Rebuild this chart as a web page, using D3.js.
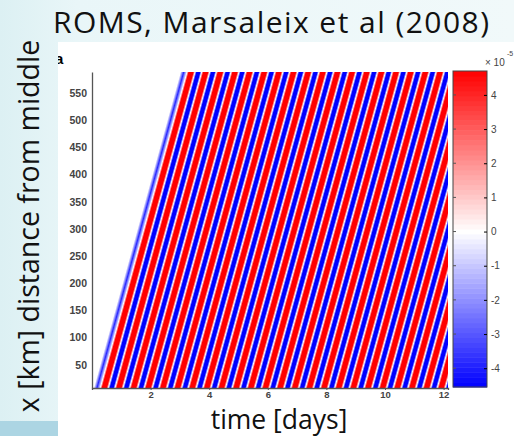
<!DOCTYPE html>
<meta charset="utf-8">
<style>
body { margin: 0; }
svg { display: block; }
.axis text { fill: #444; font-family: "Liberation Sans", Arial, sans-serif; font-weight: bold; }
.big { font-family: "Open Sans", sans-serif; fill: #111; }
</style>
<svg width="514" height="436"></svg>
<script src="https://d3js.org/d3.v7.min.js"></script>
<script>
var xTicks = [2, 4, 6, 8, 10, 12];
var yTicks = [50, 100, 150, 200, 250, 300, 350, 400, 450, 500, 550];
var cTicks = [-4, -3, -2, -1, 0, 1, 2, 3, 4];
var cLimits = [-4.55, 4.7];
// wave front: time [days] where it passes the bottom and the top distance [km]
var frontTime = [0.06, 3.02];
var frontDist = [7, 589];
// red crests and blue troughs as they cross the bottom row, in days
var crestTimes = [0.42, 0.92, 1.42, 1.92, 2.42, 2.92, 3.42, 3.92, 4.42, 4.92, 5.42, 5.92,
                  6.42, 6.92, 7.42, 7.92, 8.42, 8.92, 9.42, 9.92, 10.42, 10.92, 11.42, 11.92];
var troughTimes = [0.17, 0.67, 1.17, 1.67, 2.17, 2.67, 3.17, 3.67, 4.17, 4.67, 5.17, 5.67,
                   6.17, 6.67, 7.17, 7.67, 8.17, 8.67, 9.17, 9.67, 10.17, 10.67, 11.17, 11.67, 12.17];

var svg = d3.select("svg");
var defs = svg.append("defs");

// background
var bg = defs.append("linearGradient").attr("id", "bg");
bg.append("stop").attr("offset", 0).attr("stop-color", "#dcf0f3");
bg.append("stop").attr("offset", 0.15).attr("stop-color", "#e9f6f8");
bg.append("stop").attr("offset", 1).attr("stop-color", "#f1f9fa");
svg.append("rect").attr("width", 514).attr("height", 436).attr("fill", "url(#bg)");
svg.append("rect").attr("x", 0).attr("y", 421).attr("width", 58).attr("height", 15).attr("fill", "#acd5e3");
svg.append("rect").attr("x", 58).attr("y", 42).attr("width", 456).attr("height", 394).attr("fill", "#fff");

defs.append("clipPath").attr("id", "panel")
  .append("rect").attr("x", 58).attr("y", 42).attr("width", 456).attr("height", 394);

svg.append("text").attr("clip-path", "url(#panel)")
  .attr("x", 55).attr("y", 64)
  .style("font-family", "'Liberation Sans', Arial, sans-serif")
  .style("font-weight", "bold").style("font-size", "15px")
  .text("a");

var x = d3.scaleLinear().domain([0, 12.15]).range([92, 448]);
var y = d3.scaleLinear().domain([7, 589]).range([388, 72]);
var color = d3.scaleLinear().domain([cLimits[0], 0, cLimits[1]])
  .range(["#0000ff", "#ffffff", "#ff0000"]);

// field: one gradient along the bottom row, skewed along the wave front
var g0 = x(0), g1 = x(13);
var shift = x(frontTime[1]) - x(frontTime[0]);
var hgt = y(frontDist[0]) - y(frontDist[1]);
var ang = -Math.atan(shift / hgt) * 180 / Math.PI;
var yb = y(frontDist[0]);

var events = crestTimes.map(function(t) { return {t: t, v: cLimits[1]}; })
  .concat(troughTimes.map(function(t) { return {t: t, v: cLimits[0]}; }))
  .sort(function(a, b) { return a.t - b.t; });

var stops = [{t: frontTime[0], c: color(0)}];
events.forEach(function(e, i) {
  if (i === 0) {
    stops.push({t: e.t, c: color(e.v * 0.85)});
    return;
  }
  var prev = events[i - 1];
  stops.push({t: (prev.t + e.t) / 2 + (e.v > 0 ? -0.012 : 0.012), c: color(0)});
  var w = e.v > 0 ? 0.075 : 0.055;
  stops.push({t: e.t - w, c: color(e.v)});
  stops.push({t: e.t + w, c: color(e.v)});
});

var field = defs.append("linearGradient").attr("id", "field")
  .attr("gradientUnits", "userSpaceOnUse")
  .attr("x1", g0).attr("y1", yb).attr("x2", g1).attr("y2", yb)
  .attr("gradientTransform", "translate(0," + yb + ") skewX(" + ang + ") translate(0," + (-yb) + ")");
field.selectAll("stop").data(stops).enter().append("stop")
  .attr("offset", function(d) { return (x(d.t) - g0) / (g1 - g0); })
  .attr("stop-color", function(d) { return d.c; });

svg.append("rect")
  .attr("x", x.range()[0]).attr("y", y.range()[1])
  .attr("width", x.range()[1] - x.range()[0])
  .attr("height", y.range()[0] - y.range()[1])
  .attr("fill", "url(#field)");

// axes
var ax = svg.append("g").attr("class", "axis")
  .attr("transform", "translate(0," + y.range()[0] + ")")
  .call(d3.axisBottom(x).tickValues(xTicks).tickSize(2).tickPadding(1).tickFormat(function(d) { return d; }));
ax.selectAll("text").style("font-size", "9.5px");

var ay = svg.append("g").attr("class", "axis")
  .attr("transform", "translate(" + x.range()[0] + ",0)")
  .call(d3.axisLeft(y).tickValues(yTicks).tickSize(0).tickPadding(5).tickFormat(function(d) { return d; }));
ay.selectAll("text").style("font-size", "10.5px");

svg.selectAll(".axis .domain").attr("stroke", "#555").attr("stroke-width", 1.3);
svg.selectAll(".axis line").attr("stroke", "#555");

// colorbar
var cb = {x: 453, w: 34};
var cy = d3.scaleLinear().domain(cLimits).range([387, 71]);
var bands = d3.range(64);
var bh = (cLimits[1] - cLimits[0]) / 64;
svg.append("g").selectAll("rect").data(bands).enter().append("rect")
  .attr("x", cb.x).attr("width", cb.w)
  .attr("y", function(i) { return cy(cLimits[0] + (i + 1) * bh); })
  .attr("height", function(i) { return cy(cLimits[0] + i * bh) - cy(cLimits[0] + (i + 1) * bh) + 0.5; })
  .attr("fill", function(i) { return color(cLimits[0] + (i + 0.5) * bh); });
svg.append("rect").attr("x", cb.x).attr("y", cy.range()[1])
  .attr("width", cb.w).attr("height", cy.range()[0] - cy.range()[1])
  .attr("fill", "none").attr("stroke", "#444");

var ac = svg.append("g").attr("class", "axis")
  .attr("transform", "translate(" + (cb.x + cb.w) + ",0)")
  .call(d3.axisRight(cy).tickValues(cTicks).tickSize(-3).tickPadding(4).tickFormat(function(d) { return String(d); }));
ac.select(".domain").remove();
ac.selectAll("text").style("font-size", "10px").style("font-weight", "normal").attr("fill", "#333");
svg.append("g").selectAll("line").data(cTicks).enter().append("line")
  .attr("x1", cb.x).attr("x2", cb.x + 3)
  .attr("y1", function(d) { return cy(d); }).attr("y2", function(d) { return cy(d); })
  .attr("stroke", "#555");

svg.append("text").attr("x", 485).attr("y", 66)
  .style("font", "10px 'Liberation Sans', Arial, sans-serif").attr("fill", "#444").text("\u00d7 10");
svg.append("text").attr("x", 507).attr("y", 56)
  .style("font", "7px 'Liberation Sans', Arial, sans-serif").attr("fill", "#444").text("-5");

// titles
svg.append("text").attr("class", "big").attr("x", 271).attr("y", 33)
  .attr("text-anchor", "middle").style("font-size", "30px")
  .attr("textLength", 436).attr("lengthAdjust", "spacing")
  .text("ROMS, Marsaleix et al (2008)");
svg.append("text").attr("class", "big")
  .attr("transform", "translate(39,226) rotate(-90)")
  .attr("text-anchor", "middle").style("font-size", "28.5px")
  .text("x [km] distance from middle");
svg.append("text").attr("class", "big").attr("x", 279).attr("y", 429)
  .attr("text-anchor", "middle").style("font-size", "26.5px")
  .text("time [days]");
</script>
